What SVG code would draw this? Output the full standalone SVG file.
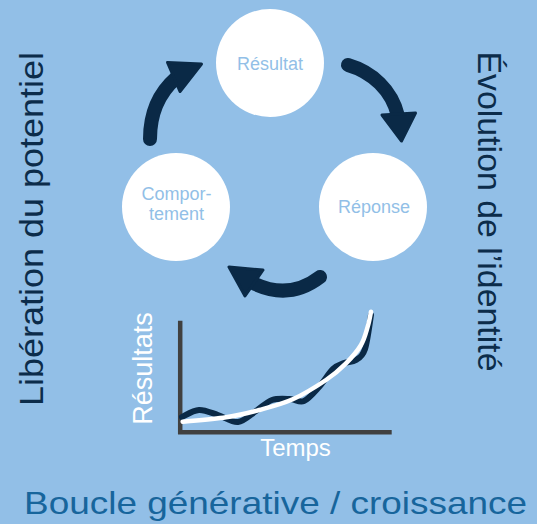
<svg xmlns="http://www.w3.org/2000/svg" width="537" height="524" viewBox="0 0 537 524">
<style>
.bg{fill:#92bfe7}
.node{fill:#ffffff}
.nt{font-family:"Liberation Sans",Arial,sans-serif;font-size:18px;fill:#92bfe7;text-anchor:middle}
.shaft{fill:none;stroke:#0a2946;stroke-width:14;stroke-linecap:round}
.head{fill:#0a2946;stroke:#0a2946;stroke-width:3;stroke-linejoin:round}
.side{font-family:"Liberation Sans",Arial,sans-serif;font-size:34px;fill:#0c2c4a;text-anchor:middle}
.title{font-family:"Liberation Sans",Arial,sans-serif;font-size:32px;fill:#17659c;text-anchor:middle}
.axis{fill:none;stroke:#404040;stroke-width:4.5;stroke-linejoin:miter}
.gl{font-family:"Liberation Sans",Arial,sans-serif;fill:#ffffff;text-anchor:middle}
</style>
<rect class="bg" x="0" y="0" width="537" height="524"/>

<g id="connectors">
  <path class="shaft" d="M150,139 C150,112 160,92 176,78"/>
  <polygon class="head" points="167.5,62.5 201.5,64 180,91.5"/>
  <path class="shaft" d="M348,65 C372,72 392,90 398,116"/>
  <polygon class="head" points="382,115 415.5,113 401.5,141"/>
  <path class="shaft" d="M320,277 Q290,300 255,284"/>
  <polygon class="head" points="229,267 263,270 245,296"/>
</g>

<g id="node-resultat">
  <circle class="node" cx="270" cy="63" r="54"/>
  <text class="nt" x="270" y="70">Résultat</text>
</g>
<g id="node-reponse">
  <circle class="node" cx="373" cy="207" r="54"/>
  <text class="nt" x="374" y="213">Réponse</text>
</g>
<g id="node-comportement">
  <circle class="node" cx="176" cy="207" r="54"/>
  <text class="nt" x="176.5" y="200">Compor-</text>
  <text class="nt" x="176.5" y="220">tement</text>
</g>

<g id="graph">
  <polyline class="axis" points="180.2,320.7 180.2,432.3 391.7,432.3"/>
  <path fill="none" stroke="#0a2946" stroke-width="6" stroke-linecap="round" d="M182,417 C184.8,415.8 193,410.3 199,410 C205,409.7 211.5,413 218,415 C224.5,417 231.7,422.7 238,422 C244.3,421.3 250.3,414.7 256,411 C261.7,407.3 266.3,402 272,400 C277.7,398 284.7,398.8 290,399 C295.3,399.2 299.2,403 304,401 C308.8,399 314.2,392.3 319,387 C323.8,381.7 328.8,373 333,369 C337.2,365 340.2,364.5 344,363 C347.8,361.5 352.5,362.3 356,360 C359.5,357.7 362.5,356.5 365,349 C367.5,341.5 370,320.7 371,315"/>
  <path fill="none" stroke="#ffffff" stroke-width="4.5" stroke-linecap="round" d="M182.7,421.7 C189.9,421 213.2,419.3 226,417.3 C238.8,415.3 248.2,413 259.3,410 C270.4,407 281.6,404.3 292.7,399.3 C303.8,394.3 317.1,386 326,380 C334.9,374 340.2,369.1 346,363.3 C351.8,357.5 357.4,351.1 361,345 C364.6,338.9 366,332.3 367.7,326.7 C369.4,321.2 370.5,314.2 371,311.7"/>
  <text class="gl" x="295.5" y="456" font-size="24">Temps</text>
  <text class="gl" font-size="27" transform="translate(151.7,368.4) rotate(-90)">Résultats</text>
</g>

<text class="side" textLength="354" lengthAdjust="spacingAndGlyphs" transform="translate(42.7,229) rotate(-90)">Libération du potentiel</text>
<text class="side" textLength="320" lengthAdjust="spacingAndGlyphs" transform="translate(478.3,211.5) rotate(90)">Évolution de l’identité</text>
<text class="title" x="275.5" y="514" textLength="503" lengthAdjust="spacingAndGlyphs">Boucle générative / croissance</text>
</svg>
